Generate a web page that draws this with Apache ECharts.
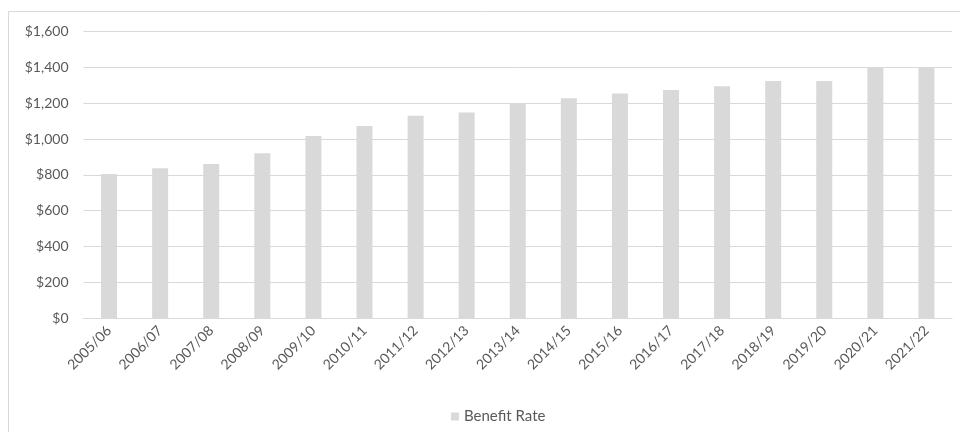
<!DOCTYPE html>
<html>
<head>
<meta charset="utf-8">
<script src="https://cdn.jsdelivr.net/npm/echarts@6/dist/echarts.min.js"></script>
<style>
  html, body { margin: 0; padding: 0; background: #fff; }
  #chart { width: 960px; height: 432px; }
</style>
</head>
<body>
<div id="chart"></div>
<script>
// Annual benefit rate by financial year
const years = ['2005/06','2006/07','2007/08','2008/09','2009/10','2010/11','2011/12','2012/13','2013/14',
  '2014/15','2015/16','2016/17','2017/18','2018/19','2019/20','2020/21','2021/22'];
const benefitRate = [805, 837, 860, 920, 1017, 1072, 1130, 1148, 1199, 1227, 1253, 1273, 1294, 1323, 1323, 1400, 1400];
const seriesName = 'Benefit Rate';

const textColor = '#595959';
const lineColor = '#d9d9d9';
const fontFamily = 'Lato, "Open Sans", sans-serif';

const chart = echarts.init(document.getElementById('chart'), null, { renderer: 'canvas' });

chart.setOption({
  animation: false,
  textStyle: { fontFamily: fontFamily, color: textColor },
  graphic: [{
    type: 'rect',
    shape: { x: 8.5, y: 11.5, width: 980, height: 440 },
    style: { fill: 'none', stroke: lineColor, lineWidth: 1 },
    silent: true
  }],
  grid: { left: 83.5, right: 8, top: 31.4, bottom: 113.7, containLabel: false },
  legend: {
    data: [seriesName],
    left: 446,
    top: 404,
    itemWidth: 8,
    itemHeight: 8,
    itemGap: 6,
    icon: 'rect',
    textStyle: { color: textColor, fontSize: 15, fontFamily: fontFamily }
  },
  xAxis: {
    type: 'category',
    data: years,
    axisLine: { lineStyle: { color: lineColor, width: 1 } },
    axisTick: { show: false },
    axisLabel: {
      rotate: 45,
      margin: 10,
      color: textColor,
      fontSize: 14,
      fontFamily: fontFamily,
      interval: 0
    }
  },
  yAxis: {
    type: 'value',
    min: 0,
    max: 1600,
    interval: 200,
    axisLine: { show: false },
    axisTick: { show: false },
    splitLine: { lineStyle: { color: lineColor, width: 1 } },
    axisLabel: {
      margin: 15,
      color: textColor,
      fontSize: 14,
      fontFamily: fontFamily,
      formatter: v => '$' + v.toLocaleString('en-US')
    }
  },
  series: [{
    name: seriesName,
    type: 'bar',
    data: benefitRate,
    barWidth: 16,
    itemStyle: { color: '#d9d9d9' }
  }]
});
</script>
</body>
</html>
